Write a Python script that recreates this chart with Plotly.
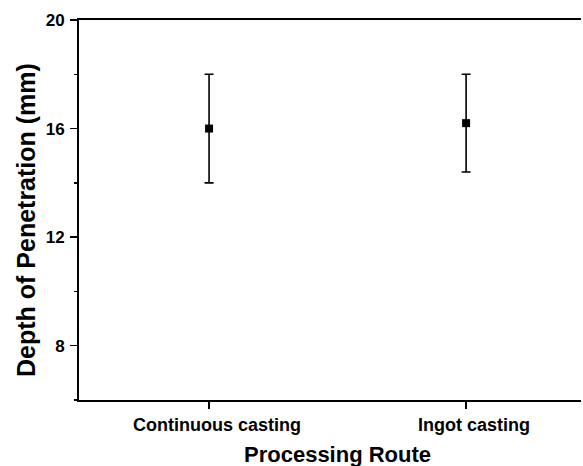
import plotly.graph_objects as go

categories = ["Continuous casting", "Ingot casting"]
depth_mean = [16.0, 16.2]
depth_err = [2.0, 1.8]
y_tickvals = [8, 12, 16, 20]

FONT = "Liberation Sans, Arial, sans-serif"

fig = go.Figure()
fig.add_trace(go.Scatter(
    x=categories, y=depth_mean, mode="markers",
    marker=dict(symbol="square", size=8, color="black"),
    error_y=dict(type="data", array=depth_err, visible=True,
                 color="black", thickness=1.6, width=4.5),
    showlegend=False,
))

fig.update_layout(
    width=583, height=466,
    margin=dict(l=79, r=2, t=20, b=66),
    paper_bgcolor="white", plot_bgcolor="white",
    font=dict(family=FONT, color="black"),
    xaxis=dict(
        type="category", range=[-0.506, 1.447],
        showline=True, linecolor="black", linewidth=2, mirror=True,
        ticks="outside", ticklen=7, tickwidth=1.5, tickcolor="black",
        showgrid=False, zeroline=False,
        ticklabelshift=8,
        tickfont=dict(family=FONT, size=18, color="black", weight="bold"),
    ),
    yaxis=dict(
        range=[6, 20], tickvals=y_tickvals,
        showline=True, linecolor="black", linewidth=2,
        ticks="outside", ticklen=7, tickwidth=1.5, tickcolor="black",
        minor=dict(dtick=2, tick0=0, ticks="outside", ticklen=3, tickwidth=1.5, tickcolor="black"),
        showgrid=False, zeroline=False,
        tickfont=dict(family=FONT, size=17, color="black", weight="bold"),
        ticklabelstandoff=2,
    ),
    annotations=[
        dict(text="Processing Route", xref="paper", yref="paper",
             x=(337 - 79) / 502, y=(400 - 454) / 380,
             xanchor="center", yanchor="middle", showarrow=False,
             font=dict(family=FONT, size=22, color="black", weight="bold")),
        dict(text="Depth of Penetration (mm)", xref="paper", yref="paper",
             x=(26 - 79) / 502, y=(400 - 220) / 380, textangle=-90,
             xanchor="center", yanchor="middle", showarrow=False,
             font=dict(family=FONT, size=25, color="black", weight="bold")),
    ],
)

fig.write_html("out.html", config={"displayModeBar": False, "staticPlot": True},
               post_script="document.body.style.margin='0';")
